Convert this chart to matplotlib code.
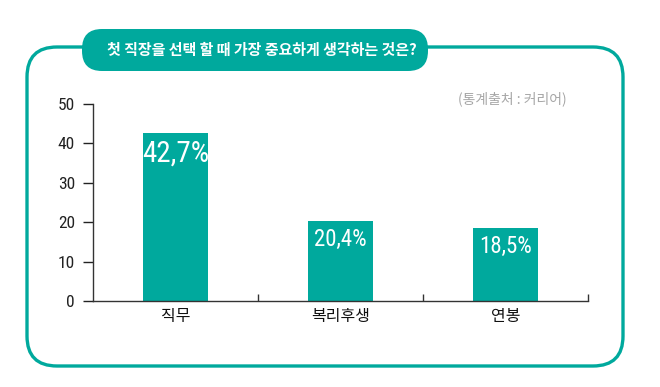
import matplotlib
matplotlib.use('Agg')
import matplotlib.pyplot as plt
from matplotlib.patches import FancyBboxPatch
from matplotlib.transforms import Affine2D
from matplotlib import font_manager

# data
categories = ['직무', '복리후생', '연봉']
values = [42.7, 20.4, 18.5]
value_labels = ['42,7%', '20,4%', '18,5%']
yticks = [0, 10, 20, 30, 40, 50]
title = '첫 직장을 선택 할 때 가장 중요하게 생각하는 것은?'
source = '(통계출처 : 커리어)'

teal = '#00A99D'
kr = ['Noto Sans CJK KR', 'Noto Sans CJK JP', 'DejaVu Sans']
names = {f.name for f in font_manager.fontManager.ttflist}
if 'Roboto Condensed' in names:
    num_font = dict(family='Roboto Condensed')
else:
    num_font = dict(family='DejaVu Sans', stretch='condensed')

W, H = 660, 387
fig = plt.figure(figsize=(W / 100, H / 100), dpi=100)
px = Affine2D().scale(1 / W, 1 / H) + fig.transFigure  # pixel coords, origin bottom-left

# outer rounded frame
fig.patches.append(FancyBboxPatch((27, H - 366), 596, 319, boxstyle='round,pad=0,rounding_size=30',
                                  fill=False, ec=teal, lw=2.4, transform=px, figure=fig))
# title pill
fig.patches.append(FancyBboxPatch((82, H - 71), 346, 42, boxstyle='round,pad=0,rounding_size=20',
                                  fc=teal, ec='none', transform=px, figure=fig))
fig.text(262 / W, 1 - 50 / H, title, color='white', fontsize=10.8, fontweight='bold',
         family=kr, ha='center', va='center')
fig.text(567 / W, 1 - 99 / H, source, color='#a6a6a6', fontsize=10, fontweight='medium',
         family=kr, ha='right', va='center')

ax = fig.add_axes([93 / W, 1 - 301 / H, 495 / W, 197 / H])
x = range(len(categories))
ax.bar(x, values, width=0.39, color=teal)
ax.set_xlim(-0.5, len(categories) - 0.5)
ax.set_ylim(0, 50)

sizes = [21, 16.5, 16.5]
for i, (v, lab) in enumerate(zip(values, value_labels)):
    ax.text(i, v - 1.8, lab, color='white', fontsize=sizes[i], ha='center', va='top', **num_font)

for s in ['top', 'right']:
    ax.spines[s].set_visible(False)
for s in ['left', 'bottom']:
    ax.spines[s].set_linewidth(1)
    ax.spines[s].set_color('#333333')

ax.set_yticks(yticks)
ax.set_yticklabels([str(t) for t in yticks], fontsize=12.5, **num_font)
ax.tick_params(axis='y', length=7, width=1, direction='out', pad=6, colors='#222222')

# category boundary ticks (pointing up) and centred labels
ax.set_xticks([i + 0.5 for i in x], labels=[''] * len(categories))
ax.tick_params(axis='x', which='major', length=5, width=1, direction='in', colors='#333333')
ax.set_xticks(list(x), labels=categories, minor=True)
ax.tick_params(axis='x', which='minor', length=0, pad=5, labelsize=11.5)
for t in ax.get_xticklabels(minor=True):
    t.set_family(kr)
    t.set_fontweight('medium')
    t.set_color('#111111')

fig.savefig('out.png', dpi=100)
